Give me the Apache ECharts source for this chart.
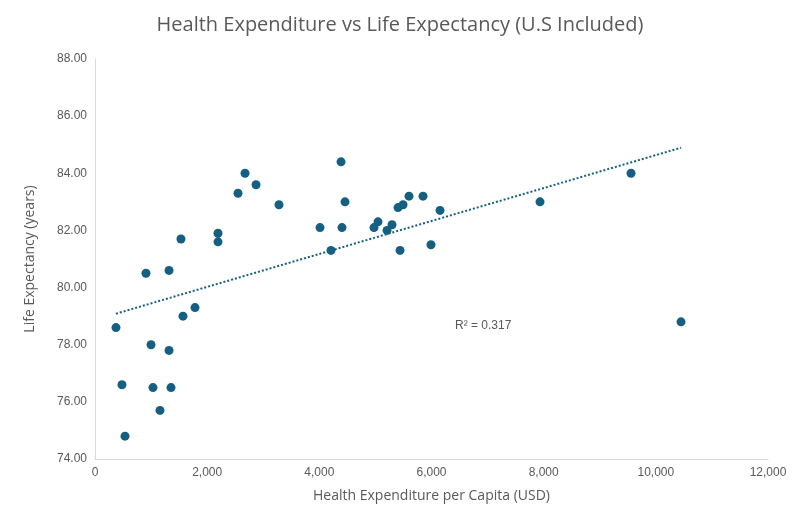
<!DOCTYPE html>
<html><head><meta charset="utf-8">
<script src="https://cdn.jsdelivr.net/npm/echarts@6/dist/echarts.min.js"></script>
<style>html,body{margin:0;padding:0;background:#fff}#c{width:800px;height:532px}</style>
</head><body><div id="c"></div>
<script>
const expenditure=[374,481,535,909,999,1034,1159,1320,1320,1355,1533,1569,1783,2193,2193,2550,2675,2871,3281,4012,4208,4387,4404,4458,4975,5046,5207,5296,5403,5439,5492,5599,5849,5991,6152,7935,9558,10449];
const lifeExp=[78.6,76.6,74.8,80.5,78.0,76.5,75.7,80.6,77.8,76.5,81.7,79.0,79.3,81.9,81.6,83.3,84.0,83.6,82.9,82.1,81.3,84.4,82.1,83.0,82.1,82.3,82.0,82.2,82.8,81.3,82.9,83.2,83.2,81.5,82.7,83.0,84.0,78.8];
const n=expenditure.length;
const mx=expenditure.reduce((a,b)=>a+b)/n, my=lifeExp.reduce((a,b)=>a+b)/n;
let sxy=0,sxx=0;for(let i=0;i<n;i++){sxy+=(expenditure[i]-mx)*(lifeExp[i]-my);sxx+=(expenditure[i]-mx)**2;}
const slope=sxy/sxx, icpt=my-slope*mx;
const xmin=Math.min(...expenditure), xmax=Math.max(...expenditure);
const trend=[[xmin,icpt+slope*xmin],[xmax,icpt+slope*xmax]];
const ch=echarts.init(document.getElementById('c'));
ch.setOption({
 title:{text:'Health Expenditure vs Life Expectancy (U.S Included)',left:'center',top:10,textStyle:{color:'#595959',fontSize:20,fontWeight:'normal',fontFamily:'Open Sans'}},
 grid:{left:95,right:32,top:59,bottom:73},
 xAxis:{type:'value',min:0,max:12000,interval:2000,name:'Health Expenditure per Capita (USD)',nameLocation:'middle',nameGap:30,
  nameTextStyle:{color:'#595959',fontSize:14,fontFamily:'Open Sans'},
  axisLine:{show:true,lineStyle:{color:'#d9d9d9'}},axisTick:{show:false},splitLine:{show:false},
  axisLabel:{color:'#595959',fontSize:12}},
 yAxis:{type:'value',min:74,max:88,interval:2,name:'Life Expectancy (years)',nameLocation:'middle',nameGap:58,
  nameTextStyle:{color:'#595959',fontSize:14,fontFamily:'Open Sans'},
  axisLine:{show:true,lineStyle:{color:'#d9d9d9'}},axisTick:{show:false},splitLine:{show:false},
  axisLabel:{color:'#595959',fontSize:12,formatter:v=>v.toFixed(2)}},
 series:[
  {type:'scatter',data:expenditure.map((x,i)=>[x,lifeExp[i]]),symbolSize:9,itemStyle:{color:'#156082',opacity:1}},
  {type:'line',data:trend,symbol:'none',lineStyle:{color:'#156082',width:2,type:[2,2]},z:1}
 ],
 graphic:[{type:'text',left:455,top:320,style:{text:'R² = 0.317',fill:'#595959',fontSize:12}}]
});
</script></body></html>
